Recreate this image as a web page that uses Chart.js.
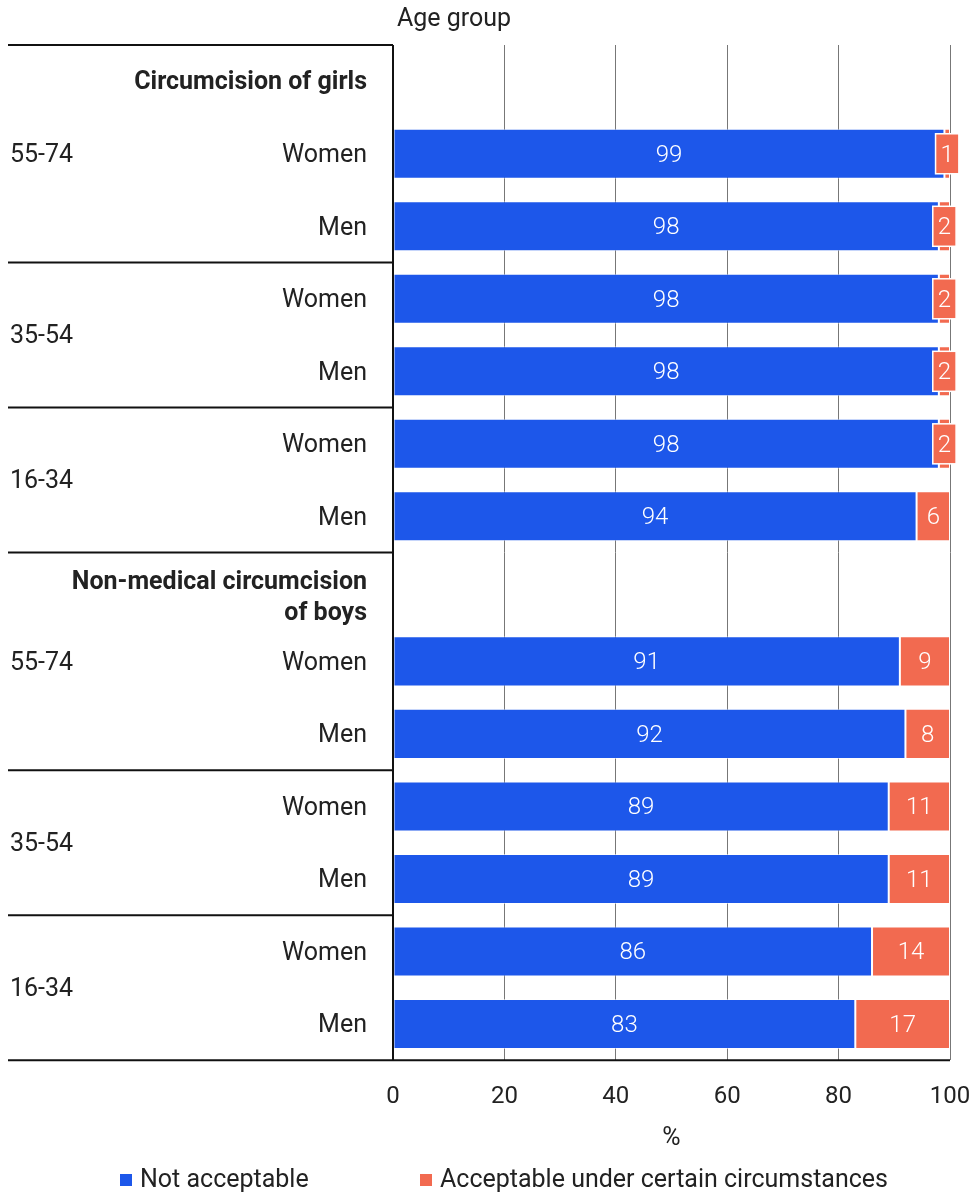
<!DOCTYPE html>
<html>
<head>
<meta charset="utf-8">
<script src="https://cdn.jsdelivr.net/npm/chart.js@4.4.1/dist/chart.umd.min.js"></script>
<style>
  body { margin: 0; background: #fff; }
  #wrap { width: 973px; height: 1194px; position: relative; }
</style>
</head>
<body>
<div id="wrap"><canvas id="chart"></canvas></div>
<script>
// rows: section header, then Women/Men per age group
const rowLabels = ['', 'Women', 'Men', 'Women', 'Men', 'Women', 'Men',
                   '', 'Women', 'Men', 'Women', 'Men', 'Women', 'Men'];
const notAcceptable = [null, 99, 98, 98, 98, 98, 94, null, 91, 92, 89, 89, 86, 83];
const acceptable = [null, 1, 2, 2, 2, 2, 6, null, 9, 8, 11, 11, 14, 17];
const sectionTitles = [
  { row: 0, lines: ['Circumcision of girls'] },
  { row: 7, lines: ['Non-medical circumcision', 'of boys'] },
];
const ageGroups = [
  { label: '55-74', from: 0, to: 2 },
  { label: '35-54', from: 3, to: 4 },
  { label: '16-34', from: 5, to: 6 },
  { label: '55-74', from: 7, to: 9 },
  { label: '35-54', from: 10, to: 11 },
  { label: '16-34', from: 12, to: 13 },
];
const xTicks = [0, 20, 40, 60, 80, 100];
const seriesNames = ['Not acceptable', 'Acceptable under certain circumstances'];

const BLUE = '#1d57ea';
const ORANGE = '#f26a50';
const TEXT = '#222';
const FONT = 'Roboto, sans-serif';
const FS = 25;

// left panel: lines, group labels, row labels, section titles, legend
const leftPanel = {
  id: 'leftPanel',
  afterDraw(chart) {
    const ctx = chart.ctx;
    const y = chart.scales.y;
    const area = chart.chartArea;
    const step = y.getPixelForValue(1) - y.getPixelForValue(0);
    const edge = i => y.getPixelForValue(i) - step / 2;
    ctx.save();
    ctx.strokeStyle = '#111';
    ctx.lineWidth = 2;
    ageGroups.forEach(g => {
      const top = edge(g.from);
      ctx.beginPath();
      ctx.moveTo(8, top);
      ctx.lineTo(area.left, top);
      ctx.stroke();
    });
    ctx.beginPath();
    ctx.moveTo(8, area.bottom);
    ctx.lineTo(area.right, area.bottom);
    ctx.stroke();
    ctx.beginPath();
    ctx.moveTo(area.left, area.top);
    ctx.lineTo(area.left, area.bottom);
    ctx.stroke();

    ctx.fillStyle = TEXT;
    ctx.textBaseline = 'middle';
    ctx.font = FS + 'px ' + FONT;
    ctx.textAlign = 'left';
    ageGroups.forEach(g => {
      const cy = (y.getPixelForValue(g.from) + y.getPixelForValue(g.to)) / 2;
      ctx.fillText(g.label, 10, cy + 2);
    });
    ctx.textAlign = 'right';
    rowLabels.forEach((l, i) => {
      if (l) ctx.fillText(l, 367, y.getPixelForValue(i) + 2);
    });
    ctx.font = 'bold ' + FS + 'px ' + FONT;
    sectionTitles.forEach(s => {
      const cy = y.getPixelForValue(s.row);
      if (s.lines.length === 1) {
        ctx.fillText(s.lines[0], 367, cy + 1);
      } else {
        s.lines.forEach((t, k) => ctx.fillText(t, 367, cy - 6 + k * 31));
      }
    });
    ctx.font = FS + 'px ' + FONT;
    ctx.textAlign = 'left';
    ctx.fillText('Age group', 397, 20);
    ctx.textAlign = 'center';
    ctx.fillText('%', (area.left + area.right) / 2, 1139);

    // legend
    ctx.textAlign = 'left';
    const items = [{ x: 120, c: BLUE }, { x: 420, c: ORANGE }];
    items.forEach((it, k) => {
      ctx.fillStyle = it.c;
      ctx.fillRect(it.x, 1174, 12, 12);
      ctx.fillStyle = TEXT;
      ctx.fillText(seriesNames[k], it.x + 20, 1181);
    });
    ctx.restore();
  }
};

// value labels inside the bars
const valueLabels = {
  id: 'valueLabels',
  afterDatasetsDraw(chart) {
    const ctx = chart.ctx;
    ctx.save();
    ctx.font = '300 24px ' + FONT;
    ctx.textAlign = 'center';
    ctx.textBaseline = 'middle';
    chart.data.datasets.forEach((ds, di) => {
      const meta = chart.getDatasetMeta(di);
      meta.data.forEach((bar, i) => {
        const v = ds.data[i];
        if (v == null) return;
        const cx = (bar.x + bar.base) / 2;
        const w = Math.abs(bar.x - bar.base);
        const txt = String(v);
        const tw = ctx.measureText(txt).width;
        if (w < tw + 8) {
          const bw = tw + 10, bh = 40;
          ctx.fillStyle = ds.backgroundColor;
          ctx.fillRect(cx - bw / 2, bar.y - bh / 2, bw, bh);
          ctx.strokeStyle = '#fff';
          ctx.lineWidth = 1.5;
          ctx.strokeRect(cx - bw / 2, bar.y - bh / 2, bw, bh);
        }
        ctx.fillStyle = '#fff';
        ctx.fillText(txt, cx, bar.y + 2);
      });
    });
    ctx.restore();
  }
};

new Chart(document.getElementById('chart'), {
  type: 'bar',
  data: {
    labels: rowLabels.map((l, i) => i),
    datasets: [
      { label: seriesNames[0], data: notAcceptable, backgroundColor: BLUE,
        borderColor: 'rgba(255,255,255,0.55)', borderWidth: 1, borderSkipped: false,
        barPercentage: 0.69, categoryPercentage: 1 },
      { label: seriesNames[1], data: acceptable, backgroundColor: ORANGE,
        borderColor: 'rgba(255,255,255,0.55)', borderWidth: 1, borderSkipped: false,
        barPercentage: 0.69, categoryPercentage: 1 },
    ],
  },
  options: {
    indexAxis: 'y',
    responsive: true,
    maintainAspectRatio: false,
    animation: false,
    layout: { padding: { left: 393, top: 45, right: 23, bottom: 83 } },
    plugins: {
      legend: { display: false },
      tooltip: { enabled: false },
    },
    scales: {
      x: {
        stacked: true,
        min: 0,
        max: 100,
        afterBuildTicks: axis => { axis.ticks = xTicks.map(v => ({ value: v })); },
        grid: { color: '#777', lineWidth: 1, drawTicks: true, tickLength: 22, tickColor: 'rgba(0,0,0,0)' },
        border: { display: false },
        ticks: { padding: 0, color: TEXT, font: { family: FONT, size: 24 } },
      },
      y: {
        stacked: true,
        display: false,
      },
    },
  },
  plugins: [leftPanel, valueLabels],
});
</script>
</body>
</html>
